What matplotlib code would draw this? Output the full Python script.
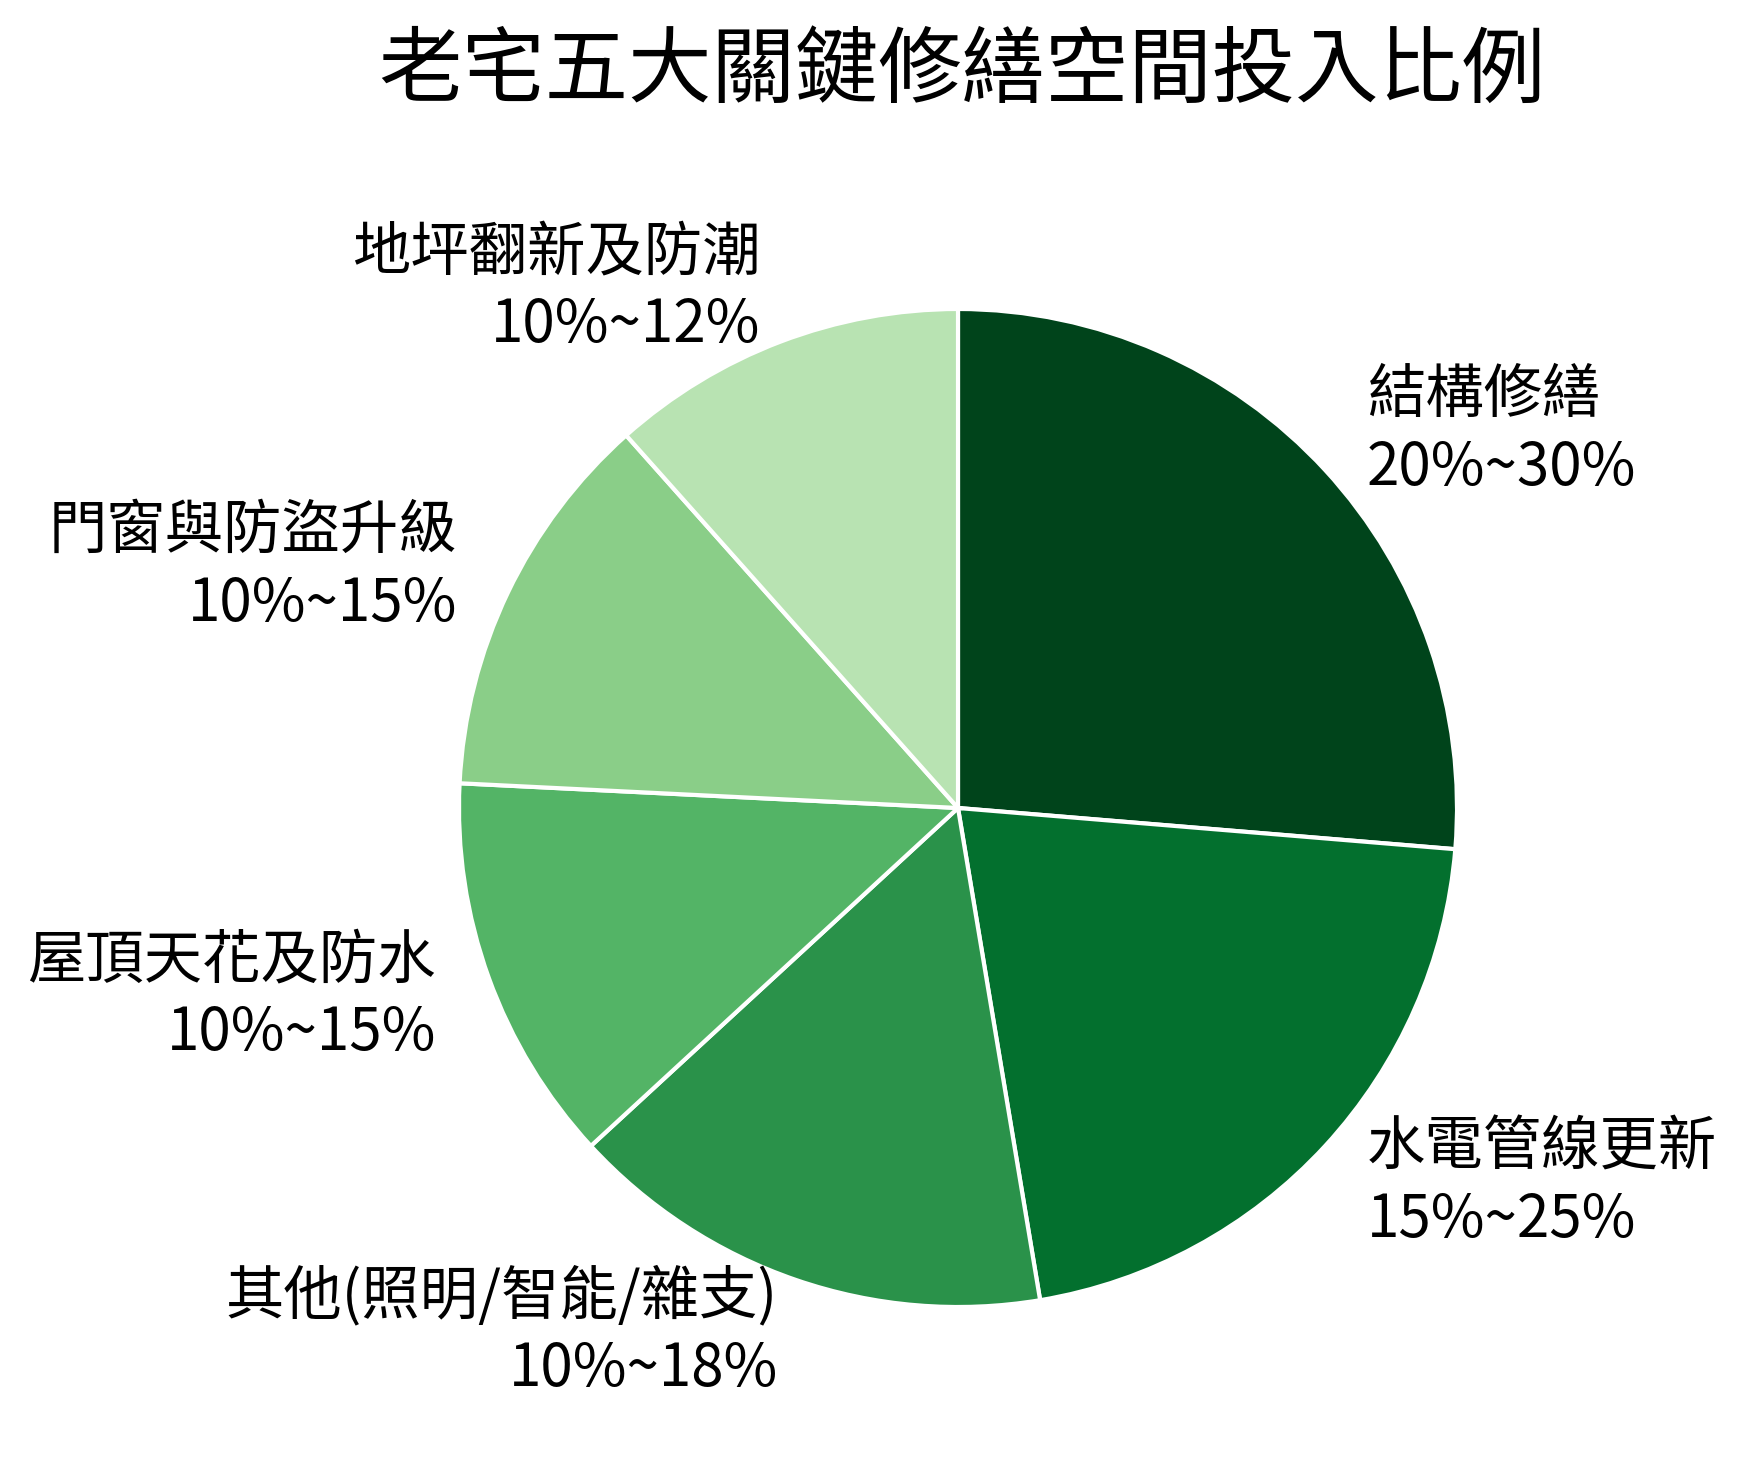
import matplotlib
matplotlib.use('Agg')
import numpy as np
import matplotlib.pyplot as plt

plt.rcParams['font.family'] = ['Noto Sans CJK TC', 'DejaVu Sans']

# renovation areas, share of budget (range midpoints)
categories = ['結構修繕', '水電管線更新', '其他(照明/智能/雜支)',
              '屋頂天花及防水', '門窗與防盜升級', '地坪翻新及防潮']
ranges = ['20%~30%', '15%~25%', '10%~18%', '10%~15%', '10%~15%', '10%~12%']
shares = [25, 20, 15, 12, 12, 11]

title = '老宅五大關鍵修繕空間投入比例'

W, H, DPI = 1746, 1468, 200
R_PX = 499.0            # pie radius in pixels
CX, CY = 958.0, 808.0   # pie centre, pixels from top-left

fig = plt.figure(figsize=(W / DPI, H / DPI), dpi=DPI)
ax = fig.add_axes([0, 0, 1, 1])

colors = plt.cm.Greens(np.linspace(1.0, 0.3, len(shares)))
labels = ['{}\n{}'.format(c, r) for c, r in zip(categories, ranges)]

wedges, texts = ax.pie(shares, labels=labels, colors=colors, startangle=90,
                       counterclock=False, labeldistance=1.113,
                       wedgeprops=dict(edgecolor='white', linewidth=1.5),
                       textprops=dict(fontsize=21, color='black',
                                      linespacing=1.25))

# place the unit circle so the pie lands where it does in the reference
ax.set_xlim(-CX / R_PX, (W - CX) / R_PX)
ax.set_ylim(-(H - CY) / R_PX, CY / R_PX)
ax.set_aspect('auto')
ax.axis('off')

fig.text(962 / W, 1 - 72 / H, title, ha='center', va='center',
         fontsize=30, color='black')

fig.savefig('out.png', dpi=DPI, facecolor='white')
